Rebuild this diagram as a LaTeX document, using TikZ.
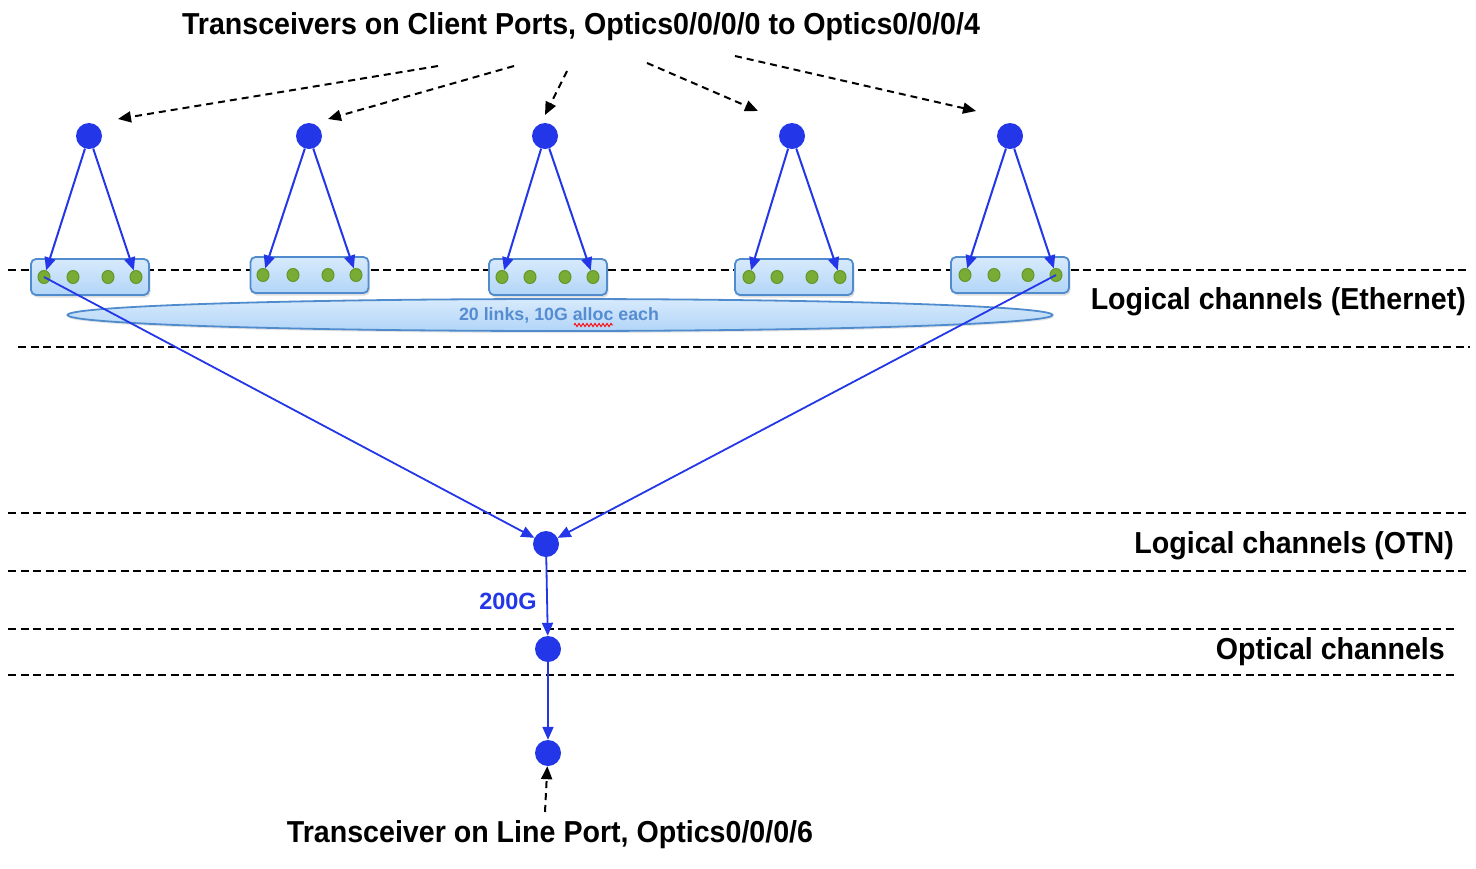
\documentclass[tikz,border=0pt]{standalone}
\usepackage{fontspec}
\setmainfont{Liberation Sans}
\usetikzlibrary{arrows.meta,shadows,decorations.pathmorphing,shapes.geometric}
\definecolor{nodeblue}{RGB}{35,55,232}
\definecolor{boxedge}{RGB}{80,140,205}
\definecolor{boxtop}{RGB}{215,234,252}
\definecolor{boxbot}{RGB}{178,213,248}
\definecolor{dotgreen}{RGB}{120,172,52}
\definecolor{dotedge}{RGB}{100,150,42}
\definecolor{elltext}{RGB}{85,140,210}
\tikzset{
  bignode/.style={circle, fill=nodeblue, draw=none, minimum size=26pt, inner sep=0pt},
  dotnode/.style={ellipse, fill=dotgreen, draw=dotedge, line width=1pt, minimum width=12pt, minimum height=13pt, inner sep=0pt},
  portbox/.style={rounded corners=5pt, draw=boxedge, line width=1.8pt, top color=boxtop, bottom color=boxbot, minimum width=118pt, minimum height=36pt, inner sep=0pt, drop shadow={opacity=0.25, shadow xshift=1.5pt, shadow yshift=-2.5pt}},
  barrow/.style={draw=nodeblue, line width=2pt, -{Triangle[length=13pt,width=11pt]}, color=nodeblue},
  larrow/.style={draw=nodeblue, line width=1.8pt, -{Triangle[length=13pt,width=11pt]}, color=nodeblue},
  darrow/.style={draw=black, line width=2pt, dash pattern=on 7pt off 5pt, -{Triangle[length=13pt,width=11pt]}},
  hline/.style={draw=black, line width=2pt, dash pattern=on 8pt off 4.5pt},
  bigtext/.style={font=\fontsize{28.6}{32}\selectfont\bfseries, inner sep=0pt, yscale=1.06},
}
\begin{document}
\begin{tikzpicture}[x=1pt,y=-1pt]
\useasboundingbox (0,0) rectangle (1476,868);
% horizontal dashed lines
\draw[hline] (8,270) -- (1470,270);
\draw[hline] (18,347) -- (1470,347);
\draw[hline] (8,513) -- (1470,513);
\draw[hline] (8,571) -- (1470,571);
\draw[hline] (8,629) -- (1455,629);
\draw[hline] (8,675) -- (1455,675);
% ellipse
\node[ellipse, draw=boxedge, line width=1.8pt, top color=boxtop, bottom color=boxbot, minimum width=985pt, minimum height=32pt, inner sep=0pt, drop shadow={opacity=0.2, shadow xshift=1pt, shadow yshift=-2pt}] (ell) at (560,315) {};
\node[font=\fontsize{17.8}{20}\selectfont\bfseries, text=elltext, inner sep=0pt] (elltxt) at (559,315) {20 links, 10G alloc each};
\draw[red, line width=0.9pt, decorate, decoration={zigzag, amplitude=1.6pt, segment length=4pt}] (574,325) -- (613,325);
% boxes
\node[portbox] (b1) at (90,277) {};
\node[portbox] (b2) at (309.5,275) {};
\node[portbox] (b3) at (548,277) {};
\node[portbox] (b4) at (794,277) {};
\node[portbox] (b5) at (1010,275) {};
% dots
\foreach \b/\y/\xa/\xb/\xc/\xd in {1/277/44/73/108/136, 2/275/263/293/328/356, 3/277/502/530/565/593, 4/277/749/777/812/840, 5/275/965/994/1028/1056}{
  \node[dotnode] (d\b1) at (\xa,\y) {};
  \node[dotnode] (d\b2) at (\xb,\y) {};
  \node[dotnode] (d\b3) at (\xc,\y) {};
  \node[dotnode] (d\b4) at (\xd,\y) {};
}
% top nodes
\node[bignode] (t1) at (89,136) {};
\node[bignode] (t2) at (309,136) {};
\node[bignode] (t3) at (545,136) {};
\node[bignode] (t4) at (792,136) {};
\node[bignode] (t5) at (1010,136) {};
\foreach \i in {1,...,5}{
  \draw[barrow] (t\i) -- (d\i1);
  \draw[barrow] (t\i) -- (d\i4);
}
% lower nodes
\node[bignode] (otn) at (546,544) {};
\node[bignode] (och) at (548,649) {};
\node[bignode] (lp) at (548,753) {};
\draw[larrow] (d11.center) -- (otn);
\draw[larrow] (d54.center) -- (otn);
\draw[larrow] (otn) -- (och);
\draw[larrow] (och) -- (lp);
\node[font=\fontsize{23.5}{26}\selectfont\bfseries, text=nodeblue, inner sep=0pt] (g200) at (508,601) {200G};
% texts
\node[bigtext] (title) at (581,27) {Transceivers on Client Ports, Optics0/0/0/0 to Optics0/0/0/4};
\node[bigtext, anchor=east] (eth) at (1466,302) {Logical channels (Ethernet)};
\node[bigtext, anchor=east] (otnl) at (1454,546) {Logical channels (OTN)};
\node[bigtext, anchor=east] (optl) at (1445,652) {Optical channels};
\node[bigtext] (linel) at (550,835) {Transceiver on Line Port, Optics0/0/0/6};
% dashed pointer arrows
\coordinate (s1) at (438,66); \coordinate (e1) at (118,119);
\coordinate (s2) at (514,66); \coordinate (e2) at (328,119);
\coordinate (s3) at (567,71); \coordinate (e3) at (545,115);
\coordinate (s4) at (647,63); \coordinate (e4) at (758,111);
\coordinate (s5) at (735,56); \coordinate (e5) at (976,111);
\foreach \i in {1,...,5}{ \draw[darrow] (s\i) -- (e\i); }
\coordinate (sl) at (545,812);
\draw[darrow] (sl) -- (lp);
\end{tikzpicture}
\end{document}
